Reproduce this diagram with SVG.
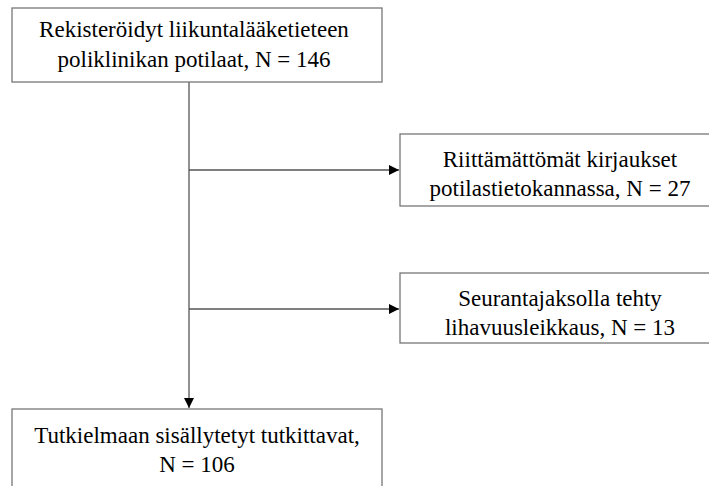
<svg xmlns="http://www.w3.org/2000/svg" width="709" height="486" viewBox="0 0 709 486">
<style>
.box{fill:#fff;stroke:#777;stroke-width:1.3}
.t{font-family:'Liberation Serif',Tinos,'Times New Roman',Times,serif;font-size:23px;fill:#000;text-anchor:middle}
.c{fill:none;stroke:#555;stroke-width:1.3}
</style>
<defs>
<marker id="ah" viewBox="0 0 10 10" refX="10" refY="5" markerWidth="10" markerHeight="10" markerUnits="userSpaceOnUse" orient="auto">
<path d="M0,0 L10,5 L0,10 Z" fill="#000"/>
</marker>
</defs>
<rect width="709" height="486" fill="#fff"/>
<g id="connectors">
<line class="c" x1="189" y1="82" x2="189" y2="408" marker-end="url(#ah)"/>
<line class="c" x1="189" y1="170" x2="399" y2="170" marker-end="url(#ah)"/>
<line class="c" x1="189" y1="309" x2="399" y2="309" marker-end="url(#ah)"/>
</g>
<g id="n1">
<rect class="box" x="12" y="8" width="370" height="74"/>
<text class="t" x="194" y="37">Rekisteröidyt liikuntalääketieteen</text>
<text class="t" x="194" y="67">poliklinikan potilaat, N = 146</text>
</g>
<g id="n2">
<rect class="box" x="400" y="134" width="322" height="72"/>
<text class="t" x="560" y="167">Riittämättömät kirjaukset</text>
<text class="t" x="560" y="196">potilastietokannassa, N = 27</text>
</g>
<g id="n3">
<rect class="box" x="400" y="273" width="322" height="70"/>
<text class="t" x="560" y="306">Seurantajaksolla tehty</text>
<text class="t" x="560" y="335">lihavuusleikkaus, N = 13</text>
</g>
<g id="n4">
<rect class="box" x="12" y="409" width="370" height="90"/>
<text class="t" x="197" y="443">Tutkielmaan sisällytetyt tutkittavat,</text>
<text class="t" x="197" y="472">N = 106</text>
</g>
</svg>
